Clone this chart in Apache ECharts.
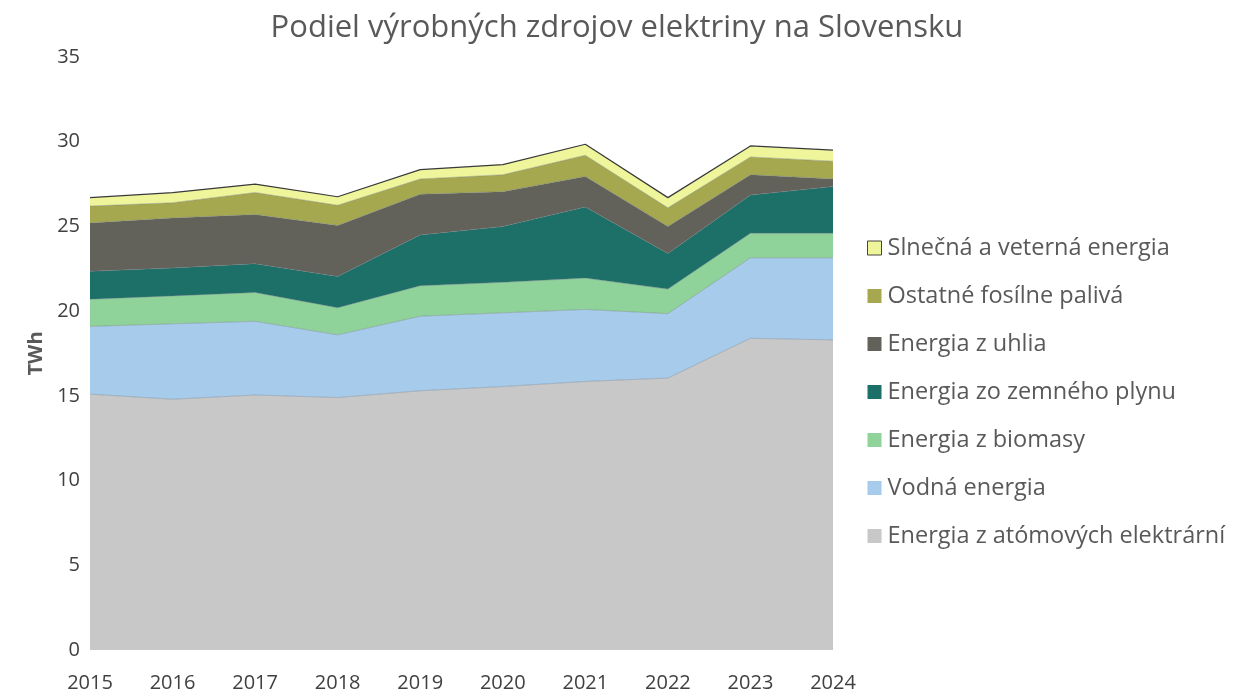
<!DOCTYPE html>
<html>
<head>
<meta charset="utf-8">
<title>Podiel výrobných zdrojov elektriny na Slovensku</title>
<script src="https://cdn.jsdelivr.net/npm/echarts@6/dist/echarts.min.js"></script>
<style>
  html, body { margin: 0; padding: 0; background: #fff; }
  #chart { width: 1234px; height: 696px; }
</style>
</head>
<body>
<div id="chart"></div>
<script>
var years = ['2015', '2016', '2017', '2018', '2019', '2020', '2021', '2022', '2023', '2024']

// TWh
var nuclear = [15.1, 14.8, 15.05, 14.9, 15.3, 15.55, 15.85, 16.05, 18.4, 18.3]
var hydro = [4.0, 4.45, 4.35, 3.7, 4.4, 4.35, 4.25, 3.8, 4.75, 4.85]
var biomass = [1.6, 1.65, 1.7, 1.6, 1.8, 1.8, 1.85, 1.45, 1.45, 1.45]
var gas = [1.65, 1.65, 1.7, 1.85, 3.0, 3.3, 4.2, 2.1, 2.25, 2.75]
var coal = [2.85, 2.95, 2.9, 3.0, 2.4, 2.05, 1.8, 1.6, 1.2, 0.45]
var otherFossil = [1.0, 0.9, 1.3, 1.2, 0.9, 1.0, 1.25, 1.1, 1.05, 1.05]
var solarWind = [0.5, 0.6, 0.5, 0.5, 0.55, 0.6, 0.65, 0.6, 0.65, 0.65]

var names = [
  'Energia z atómových elektrární',
  'Vodná energia',
  'Energia z biomasy',
  'Energia zo zemného plynu',
  'Energia z uhlia',
  'Ostatné fosílne palivá',
  'Slnečná a veterná energia'
]
var colors = ['#c8c8c8', '#a6cbeb', '#8fd29a', '#1d7068', '#62625a', '#a5a84e', '#eef59b']
var values = [nuclear, hydro, biomass, gas, coal, otherFossil, solarWind]

function areaSeries (i) {
  var last = i === values.length - 1
  return {
    name: names[i],
    type: 'line',
    stack: 'total',
    symbol: 'none',
    data: values[i],
    lineStyle: {
      width: last ? 1.2 : 0.8,
      color: last ? '#3a3a3a' : 'rgba(110,120,130,0.5)'
    },
    areaStyle: { color: colors[i], opacity: 1 },
    itemStyle: { color: colors[i] }
  }
}

var myChart = echarts.init(document.getElementById('chart'))
var option = {
  animation: false,
  textStyle: { fontFamily: 'Open Sans' },
  title: {
    text: 'Podiel výrobných zdrojov elektriny na Slovensku',
    left: 'center',
    top: 8,
    textStyle: { fontFamily: 'Open Sans', fontSize: 31, fontWeight: 'normal', color: '#595959' }
  },
  legend: {
    orient: 'vertical',
    left: 862,
    top: 231,
    itemGap: 24,
    itemWidth: 14,
    itemHeight: 14,
    icon: 'rect',
    data: names.slice().reverse().map(function (n, k) {
      return k === 0
        ? { name: n, itemStyle: { borderColor: '#444', borderWidth: 1 } }
        : { name: n }
    }),
    textStyle: { fontSize: 23.5, lineHeight: 24, color: '#595959', fontFamily: 'Open Sans', padding: [0, 0, 0, 1] }
  },
  grid: {
    left: 90,
    right: 401,
    top: 57,
    bottom: 46
  },
  xAxis: {
    type: 'category',
    boundaryGap: false,
    data: years,
    axisLine: { show: false },
    axisTick: { show: false },
    axisLabel: { fontSize: 20, color: '#404040', margin: 23 }
  },
  yAxis: {
    type: 'value',
    min: 0,
    max: 35,
    interval: 5,
    name: 'TWh',
    nameLocation: 'middle',
    nameGap: 38,
    nameTextStyle: { fontSize: 20, color: '#595959', fontWeight: 'bold' },
    splitLine: { show: false },
    axisLine: { show: false },
    axisTick: { show: false },
    axisLabel: { fontSize: 20, color: '#404040', margin: 10 }
  },
  series: values.map(function (v, i) { return areaSeries(i) })
}
option && myChart.setOption(option)
</script>
</body>
</html>
